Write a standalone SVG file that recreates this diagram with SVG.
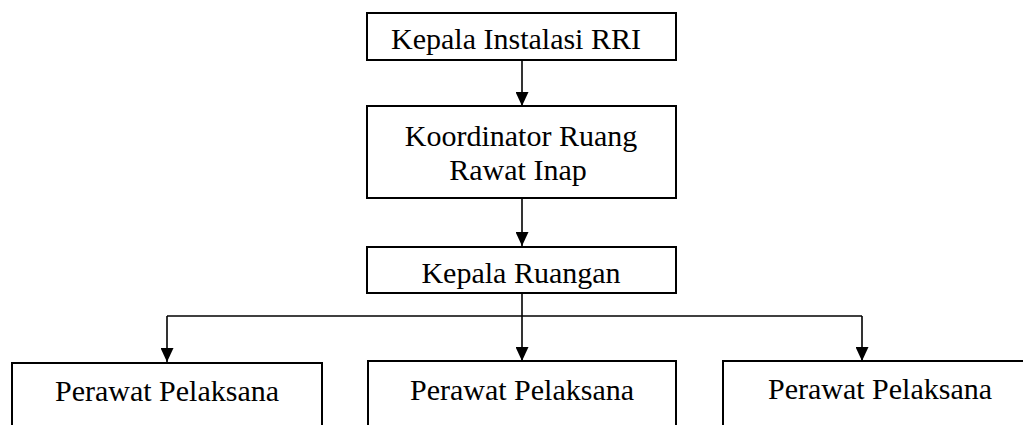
<svg xmlns="http://www.w3.org/2000/svg" width="1023" height="425" viewBox="0 0 1023 425">
  <style>
    .box { fill: #ffffff; stroke: #000000; stroke-width: 2; }
    .lbl { font-family: "Liberation Serif", "Times New Roman", serif; font-size: 30px; fill: #000000; text-anchor: middle; }
    .wire { fill: none; stroke: #000000; stroke-width: 1.6; }
  </style>
  <defs>
    <marker id="arrow" markerUnits="userSpaceOnUse" markerWidth="14" markerHeight="13" refX="14" refY="6.5" orient="auto">
      <path d="M0,0 L14,6.5 L0,13 z" fill="#000000"/>
    </marker>
  </defs>
  <rect width="1023" height="425" fill="#ffffff"/>

  <g id="connectors">
    <line class="wire" x1="522" y1="60" x2="522" y2="106" marker-end="url(#arrow)"/>
    <line class="wire" x1="522" y1="198" x2="522" y2="246" marker-end="url(#arrow)"/>
    <line class="wire" x1="522" y1="293" x2="522" y2="316"/>
    <line class="wire" x1="167" y1="316" x2="862" y2="316"/>
    <line class="wire" x1="167" y1="316" x2="167" y2="362" marker-end="url(#arrow)"/>
    <line class="wire" x1="522" y1="316" x2="522" y2="361" marker-end="url(#arrow)"/>
    <line class="wire" x1="862" y1="316" x2="862" y2="361" marker-end="url(#arrow)"/>
  </g>

  <g id="kepala-instalasi">
    <rect class="box" x="367" y="13" width="309" height="47"/>
    <text class="lbl" x="516" y="49">Kepala Instalasi RRI</text>
  </g>

  <g id="koordinator">
    <rect class="box" x="367" y="106" width="309" height="92"/>
    <text class="lbl" x="521" y="146">Koordinator Ruang</text>
    <text class="lbl" x="518" y="180">Rawat Inap</text>
  </g>

  <g id="kepala-ruangan">
    <rect class="box" x="367" y="247" width="309" height="46"/>
    <text class="lbl" x="521" y="283">Kepala Ruangan</text>
  </g>

  <g id="perawat-1">
    <rect class="box" x="12" y="363" width="310" height="80"/>
    <text class="lbl" x="167" y="401">Perawat Pelaksana</text>
  </g>

  <g id="perawat-2">
    <rect class="box" x="368" y="361" width="308" height="80"/>
    <text class="lbl" x="522" y="400">Perawat Pelaksana</text>
  </g>

  <g id="perawat-3">
    <rect class="box" x="723" y="361" width="320" height="80"/>
    <text class="lbl" x="880" y="399">Perawat Pelaksana</text>
  </g>
</svg>
